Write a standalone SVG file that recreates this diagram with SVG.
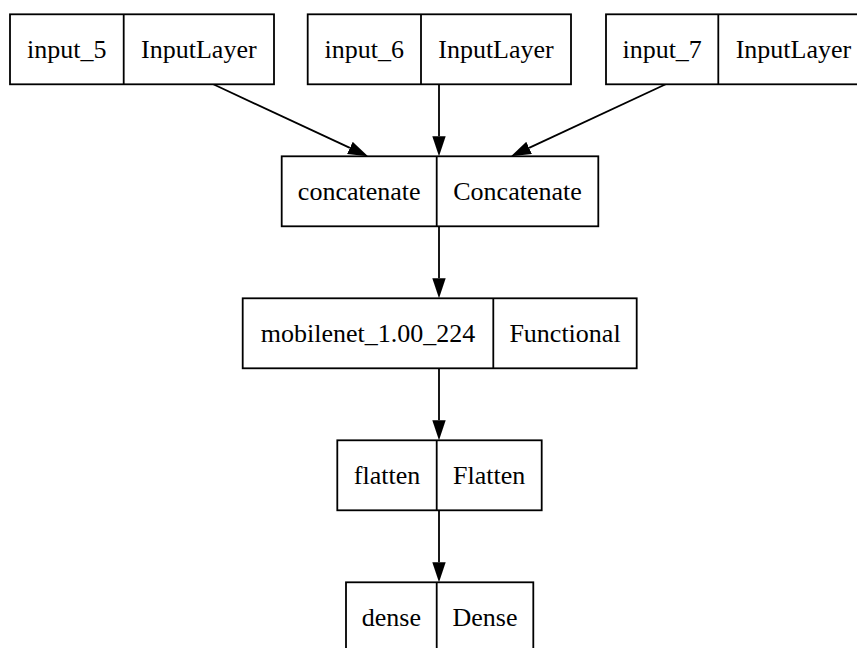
<svg xmlns="http://www.w3.org/2000/svg" width="857" height="648" viewBox="0 0 857 648">
  <style>
    .box { fill: #ffffff; stroke: #000000; stroke-width: 1.8; }
    .div { stroke: #000000; stroke-width: 1.8; }
    .lbl { font-family: "Liberation Serif", "Times New Roman", serif; font-size: 26px; fill: #000000; text-anchor: middle; }
    .edge { stroke: #000000; stroke-width: 1.8; fill: none; marker-end: url(#head); }
  </style>
  <defs>
    <marker id="head" markerUnits="userSpaceOnUse" markerWidth="21" markerHeight="14" refX="0" refY="6.7" orient="auto">
      <path d="M0,0 L20,6.7 L0,13.4 Z" fill="#000000" stroke="none"/>
    </marker>
  </defs>
  <rect width="857" height="648" fill="#ffffff"/>

  <g id="connectors">
    <line class="edge" x1="213.3" y1="84.3" x2="349.9" y2="147.9"/>
    <line class="edge" x1="439" y1="84.3" x2="439" y2="136.3"/>
    <line class="edge" x1="665.7" y1="84.3" x2="529.1" y2="147.9"/>
    <line class="edge" x1="439" y1="226.3" x2="439" y2="278.3"/>
    <line class="edge" x1="439" y1="368.3" x2="439" y2="420.3"/>
    <line class="edge" x1="439" y1="510.3" x2="439" y2="562.3"/>
  </g>

  <g id="input_5">
    <rect class="box" x="10" y="14.3" width="264" height="70"/>
    <line class="div" x1="123.7" y1="14.3" x2="123.7" y2="84.3"/>
    <text class="lbl" x="66.85" y="57.8">input_5</text>
    <text class="lbl" x="198.85" y="57.8">InputLayer</text>
  </g>

  <g id="input_6">
    <rect class="box" x="307.7" y="14.3" width="263.3" height="70"/>
    <line class="div" x1="421" y1="14.3" x2="421" y2="84.3"/>
    <text class="lbl" x="364.35" y="57.8">input_6</text>
    <text class="lbl" x="496" y="57.8">InputLayer</text>
  </g>

  <g id="input_7">
    <rect class="box" x="606" y="14.3" width="262.6" height="70"/>
    <line class="div" x1="718.3" y1="14.3" x2="718.3" y2="84.3"/>
    <text class="lbl" x="662.15" y="57.8">input_7</text>
    <text class="lbl" x="793.45" y="57.8">InputLayer</text>
  </g>

  <g id="concatenate">
    <rect class="box" x="281.7" y="156.3" width="316.6" height="70"/>
    <line class="div" x1="436.7" y1="156.3" x2="436.7" y2="226.3"/>
    <text class="lbl" x="359.2" y="199.8">concatenate</text>
    <text class="lbl" x="517.5" y="199.8">Concatenate</text>
  </g>

  <g id="mobilenet_1.00_224">
    <rect class="box" x="242.7" y="298.3" width="394" height="70"/>
    <line class="div" x1="493.3" y1="298.3" x2="493.3" y2="368.3"/>
    <text class="lbl" x="368" y="341.8">mobilenet_1.00_224</text>
    <text class="lbl" x="565" y="341.8">Functional</text>
  </g>

  <g id="flatten">
    <rect class="box" x="337.3" y="440.3" width="204.4" height="70"/>
    <line class="div" x1="436.7" y1="440.3" x2="436.7" y2="510.3"/>
    <text class="lbl" x="387" y="483.8">flatten</text>
    <text class="lbl" x="489.2" y="483.8">Flatten</text>
  </g>

  <g id="dense">
    <rect class="box" x="346" y="582.3" width="187.3" height="70"/>
    <line class="div" x1="436.7" y1="582.3" x2="436.7" y2="652.3"/>
    <text class="lbl" x="391.35" y="625.8">dense</text>
    <text class="lbl" x="485" y="625.8">Dense</text>
  </g>
</svg>
